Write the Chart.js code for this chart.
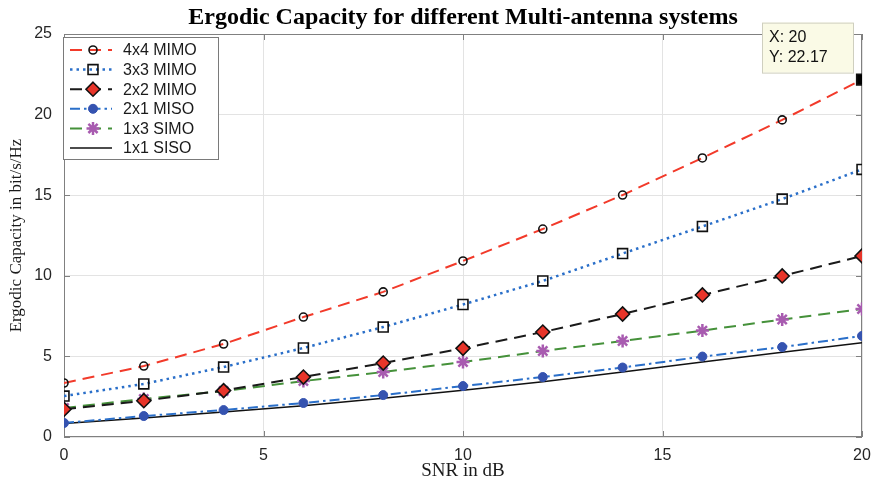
<!DOCTYPE html>
<html>
<head>
<meta charset="utf-8">
<title>Ergodic Capacity</title>
<script src="https://cdn.jsdelivr.net/npm/chart.js@4.4.1/dist/chart.umd.min.js"></script>
<style>
  html, body { margin: 0; padding: 0; background: #fff; }
  #wrap { width: 874px; height: 485px; }
</style>
</head>
<body>
<div id="wrap"><canvas id="capacidad"></canvas></div>
<script>
// SNR (dB) and capacity (bit/s/Hz) for each antenna configuration
var snr = [0, 2, 4, 6, 8, 10, 12, 14, 16, 18, 20];
var mimo4x4 = [3.35, 4.40, 5.77, 7.44, 9.00, 10.92, 12.90, 15.01, 17.31, 19.67, 22.17];
var mimo3x3 = [2.54, 3.29, 4.34, 5.52, 6.82, 8.22, 9.68, 11.38, 13.06, 14.76, 16.60];
var mimo2x2 = [1.72, 2.25, 2.88, 3.72, 4.59, 5.50, 6.51, 7.63, 8.81, 9.99, 11.23];
var miso2x1 = [0.87, 1.30, 1.67, 2.11, 2.60, 3.16, 3.72, 4.31, 4.99, 5.58, 6.27];
var simo1x3 = [1.80, 2.36, 2.85, 3.47, 4.03, 4.65, 5.33, 5.96, 6.60, 7.29, 7.94];
var siso1x1 = [0.84, 1.18, 1.55, 1.94, 2.40, 2.90, 3.43, 4.03, 4.65, 5.26, 5.85];
var xTicks = [0, 5, 10, 15, 20];
var yTicks = [0, 5, 10, 15, 20, 25];

var SANS = "'Liberation Sans', Arial, sans-serif";
var SERIF = "'Liberation Serif', 'Times New Roman', serif";

function puntos(valores) {
    return valores.map(function (v, i) { return { x: snr[i], y: v }; });
}

// last point of the 4x4 curve carries the data tip marker
var ultimo = snr.length - 1;
var estilo4x4 = snr.map(function (s, i) { return i === ultimo ? "rect" : "circle"; });
var fondo4x4 = snr.map(function (s, i) { return i === ultimo ? "#000" : "rgba(0,0,0,0)"; });
var radio4x4 = snr.map(function (s, i) { return i === ultimo ? 7.5 : 4; });

function dibujarMarcador(ctx, estilo, x, y, r, relleno, borde, grosor) {
    ctx.save();
    ctx.lineWidth = grosor;
    ctx.strokeStyle = borde;
    ctx.fillStyle = relleno;
    ctx.setLineDash([]);
    ctx.beginPath();
    if (estilo === "circle") {
        ctx.arc(x, y, r, 0, Math.PI * 2);
    } else if (estilo === "rect") {
        var s = r * Math.SQRT1_2;
        ctx.rect(x - s, y - s, 2 * s, 2 * s);
    } else if (estilo === "rectRot") {
        ctx.moveTo(x, y - r); ctx.lineTo(x + r, y); ctx.lineTo(x, y + r); ctx.lineTo(x - r, y); ctx.closePath();
    } else if (estilo === "star") {
        for (var k = 0; k < 4; k++) {
            var a = k * Math.PI / 4;
            ctx.moveTo(x - Math.cos(a) * r, y - Math.sin(a) * r);
            ctx.lineTo(x + Math.cos(a) * r, y + Math.sin(a) * r);
        }
        ctx.stroke(); ctx.restore(); return;
    }
    if (estilo !== "none") { ctx.fill(); ctx.stroke(); }
    ctx.restore();
}

// axes box with inward ticks
var cajaEjes = {
    id: "cajaEjes",
    beforeDatasetsDraw: function (chart) {
        var ctx = chart.ctx, a = chart.chartArea;
        var sx = chart.scales.x, sy = chart.scales.y;
        ctx.save();
        ctx.strokeStyle = "#808080";
        ctx.lineWidth = 1;
        ctx.strokeRect(a.left + 0.5, a.top + 0.5, a.right - a.left - 1, a.bottom - a.top - 1);
        ctx.beginPath();
        xTicks.forEach(function (t) {
            var px = Math.round(sx.getPixelForValue(t)) + 0.5;
            ctx.moveTo(px, a.bottom); ctx.lineTo(px, a.bottom - 6);
            ctx.moveTo(px, a.top); ctx.lineTo(px, a.top + 6);
        });
        yTicks.forEach(function (t) {
            var py = Math.round(sy.getPixelForValue(t)) + 0.5;
            ctx.moveTo(a.left, py); ctx.lineTo(a.left + 6, py);
            ctx.moveTo(a.right, py); ctx.lineTo(a.right - 6, py);
        });
        ctx.stroke();
        ctx.restore();
    }
};

// legend drawn as line sample + marker, like the plotted series
var leyenda = {
    id: "leyenda",
    afterDatasetsDraw: function (chart) {
        var ctx = chart.ctx, a = chart.chartArea;
        var x0 = a.left - 1, y0 = a.top + 3, w = 155, h = 122;
        ctx.save();
        ctx.fillStyle = "#fff";
        ctx.fillRect(x0, y0, w, h);
        ctx.strokeStyle = "#7a7a7a";
        ctx.lineWidth = 1;
        ctx.strokeRect(x0 + 0.5, y0 + 0.5, w, h);
        chart.data.datasets.forEach(function (ds, i) {
            var y = y0 + 13 + i * 19.6;
            ctx.beginPath();
            ctx.strokeStyle = ds.borderColor;
            ctx.lineWidth = ds.borderWidth;
            ctx.setLineDash(ds.borderDash || []);
            ctx.moveTo(x0 + 7, y); ctx.lineTo(x0 + 49, y);
            ctx.stroke();
            var est = Array.isArray(ds.pointStyle) ? ds.pointStyle[0] : ds.pointStyle;
            var bg = Array.isArray(ds.pointBackgroundColor) ? ds.pointBackgroundColor[0] : ds.pointBackgroundColor;
            var rr = Array.isArray(ds.pointRadius) ? ds.pointRadius[0] : ds.pointRadius;
            if (rr > 0) dibujarMarcador(ctx, est, x0 + 30, y, rr, bg, ds.pointBorderColor, ds.pointBorderWidth);
            ctx.setLineDash([]);
            ctx.fillStyle = "#1a1a1a";
            ctx.font = "16px " + SANS;
            ctx.textBaseline = "middle";
            ctx.fillText(ds.label, x0 + 60, y + 1);
        });
        ctx.restore();
    }
};

// data tip on the last 4x4 MIMO point
var datoPunta = {
    id: "datoPunta",
    afterDraw: function (chart) {
        var ctx = chart.ctx;
        var el = chart.getDatasetMeta(0).data[ultimo];
        var bx = el.x - 100, by = el.y - 57, bw = 91, bh = 50;
        ctx.save();
        ctx.fillStyle = "#fafae6";
        ctx.fillRect(bx, by, bw, bh);
        ctx.strokeStyle = "#cfcfbf";
        ctx.lineWidth = 1;
        ctx.strokeRect(bx + 0.5, by + 0.5, bw, bh);
        ctx.fillStyle = "#111";
        ctx.font = "16px " + SANS;
        ctx.textBaseline = "middle";
        ctx.fillText("X: " + snr[ultimo], bx + 7, by + 15);
        ctx.fillText("Y: " + mimo4x4[ultimo].toFixed(2), bx + 7, by + 35);
        ctx.restore();
    }
};

var ctx = document.getElementById("capacidad").getContext("2d");
new Chart(ctx, {
    type: "line",
    data: {
        datasets: [
            {
                label: "4x4 MIMO",
                data: puntos(mimo4x4),
                borderColor: "#f23a2a",
                borderWidth: 2,
                borderDash: [12, 7],
                pointStyle: estilo4x4,
                pointRadius: radio4x4,
                pointBackgroundColor: fondo4x4,
                pointBorderColor: "#111",
                pointBorderWidth: 1.6
            },
            {
                label: "3x3 MIMO",
                data: puntos(mimo3x3),
                borderColor: "#2a6fc9",
                borderWidth: 2.5,
                borderDash: [2.5, 4],
                pointStyle: "rect",
                pointRadius: 7,
                pointBackgroundColor: "rgba(0,0,0,0)",
                pointBorderColor: "#111",
                pointBorderWidth: 1.6
            },
            {
                label: "2x2 MIMO",
                data: puntos(mimo2x2),
                borderColor: "#1a1a1a",
                borderWidth: 2,
                borderDash: [12, 7],
                pointStyle: "rectRot",
                pointRadius: 7,
                pointBackgroundColor: "#e8352a",
                pointBorderColor: "#111",
                pointBorderWidth: 1.6
            },
            {
                label: "2x1 MISO",
                data: puntos(miso2x1),
                borderColor: "#2a6fc9",
                borderWidth: 2,
                borderDash: [10, 4, 2.5, 4],
                pointStyle: "circle",
                pointRadius: 4.5,
                pointBackgroundColor: "#3553b0",
                pointBorderColor: "#3553b0",
                pointBorderWidth: 1
            },
            {
                label: "1x3 SIMO",
                data: puntos(simo1x3),
                borderColor: "#45913a",
                borderWidth: 2,
                borderDash: [12, 7],
                pointStyle: "star",
                pointRadius: 6.5,
                pointBackgroundColor: "#a85bb0",
                pointBorderColor: "#a85bb0",
                pointBorderWidth: 2.5
            },
            {
                label: "1x1 SISO",
                data: puntos(siso1x1),
                borderColor: "#111",
                borderWidth: 1.6,
                pointStyle: "circle",
                pointRadius: 0,
                pointBackgroundColor: "#111",
                pointBorderColor: "#111",
                pointBorderWidth: 0
            }
        ]
    },
    options: {
        responsive: true,
        maintainAspectRatio: false,
        animation: false,
        layout: { padding: { left: 0, right: 12, top: 0, bottom: 0 } },
        elements: { line: { tension: 0, fill: false } },
        plugins: {
            legend: { display: false },
            tooltip: { enabled: false },
            title: {
                display: true,
                text: "Ergodic Capacity for different Multi-antenna systems",
                fullSize: false,
                color: "#000",
                font: { family: SERIF, size: 24, weight: "bold", lineHeight: 1.0 },
                padding: { top: 6, bottom: 4 }
            }
        },
        scales: {
            x: {
                type: "linear",
                min: xTicks[0],
                max: xTicks[xTicks.length - 1],
                afterBuildTicks: function (s) { s.ticks = xTicks.map(function (v) { return { value: v }; }); },
                afterFit: function (s) { s.height = 48; s.paddingLeft = 0; s.paddingRight = 0; },
                grid: { color: "#e3e3e3", drawTicks: false },
                border: { display: false },
                ticks: { color: "#262626", padding: 9, font: { family: SANS, size: 16 } },
                title: {
                    display: true,
                    text: "SNR in dB",
                    color: "#1a1a1a",
                    font: { family: SERIF, size: 19 },
                    padding: { top: 0, bottom: 3 }
                }
            },
            y: {
                min: yTicks[0],
                max: yTicks[yTicks.length - 1],
                afterBuildTicks: function (s) { s.ticks = yTicks.map(function (v) { return { value: v }; }); },
                afterFit: function (s) { s.width = 64; },
                grid: { color: "#e3e3e3", drawTicks: false },
                border: { display: false },
                ticks: { color: "#262626", padding: 12, font: { family: SANS, size: 16 } },
                title: {
                    display: true,
                    text: "Ergodic Capacity in bit/s/Hz",
                    color: "#1a1a1a",
                    font: { family: SERIF, size: 17 },
                    padding: { top: 6, bottom: 0 }
                }
            }
        }
    },
    plugins: [cajaEjes, leyenda, datoPunta]
});
</script>
</body>
</html>
